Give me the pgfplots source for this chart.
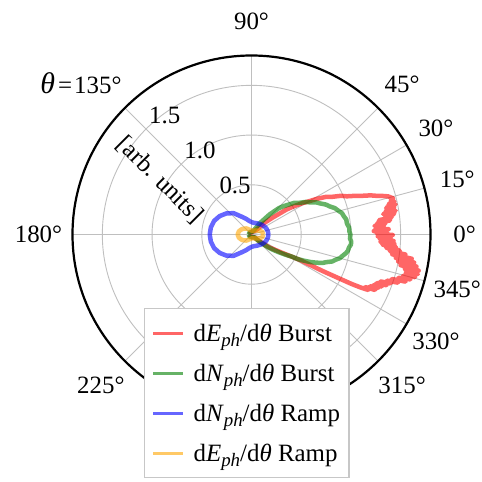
\documentclass[border=0pt]{standalone}
\usepackage{fontspec}
\setmainfont{Liberation Serif}
\usepackage{pgfplots}
\pgfplotsset{compat=1.18}
\usepgfplotslibrary{polar}

\definecolor{mplorange}{RGB}{255,165,0}
\newcommand\ticklabelfont{\fontsize{25}{30}\selectfont}
\newcommand\legendfont{\fontsize{25}{29}\selectfont}
\newcommand\sub[1]{\raisebox{-0.22em}{\fontsize{19}{21}\selectfont\textit{#1}}}

\begin{document}
\begin{tikzpicture}
\begin{polaraxis}[
  scale only axis, width=358bp, height=358bp,
  ymin=0, ymax=1.8,
  xtick={0,15,30,45,90,135,180,225,270,315,330,345},
  xticklabels={},
  ytick={0.5,1.0,1.5},
  yticklabels={},
  grid=major,
  major grid style={draw=black!25, line width=0.9bp},
  axis line style={line width=2.2bp, black},
  y axis line style={draw=none},
  major tick length=0pt,
  clip=false,
  legend style={
    at={(axis description cs:0.1997,0.2947)}, anchor=north west,
    draw=black!22, line width=1.2bp, fill=white,
    font=\legendfont, row sep=17.2bp,
    inner xsep=7bp, inner ysep=13bp,
    /tikz/every odd column/.append style={column sep=7bp},
  },
  legend cell align=left,
  legend image code/.code={\draw[#1, line width=3bp] (0bp,0bp) -- (30bp,0bp);},
]
\coordinate (c) at (axis cs:0,0);

% energy per angle, burst regime
\addplot[red, draw opacity=0.6, line width=4.5bp, line join=round] coordinates {
 (180,0.02) (120,0.02) (90,0.025) (70,0.03) (55,0.04) (48,0.06) (45,0.07)
 (42.5,0.165) (38.8,0.266) (35.5,0.434) (33.5,0.52) (31.8,0.594) (30.2,0.66)
 (28.6,0.748) (26.8,0.84) (25.1,0.892) (23.4,0.98) (21.8,1.034) (20.5,1.11)
 (19.3,1.177) (18.2,1.26) (17.1,1.321) (16.3,1.38) (15.6,1.426) (14.9,1.45)
 (14.3,1.47) (13.6,1.44) (13.0,1.475) (12.4,1.41) (11.8,1.48) (11.2,1.38)
 (10.6,1.46) (10.0,1.37) (9.4,1.47) (8.8,1.34) (8.2,1.45) (7.6,1.36)
 (7.0,1.42) (6.4,1.29) (5.8,1.40) (5.2,1.27) (4.6,1.35) (4.0,1.24)
 (3.4,1.33) (2.8,1.25) (2.2,1.38) (1.6,1.23) (1.0,1.36) (0.4,1.26)
 (-0.2,1.42) (-0.8,1.27) (-1.4,1.40) (-2.0,1.29) (-2.6,1.43) (-3.2,1.30)
 (-3.8,1.44) (-4.4,1.32) (-5.0,1.46) (-5.6,1.36) (-6.2,1.50) (-6.8,1.40)
 (-7.4,1.56) (-8.0,1.43) (-8.6,1.63) (-9.2,1.47) (-9.8,1.66) (-10.4,1.50)
 (-11.0,1.69) (-11.6,1.53) (-12.2,1.72) (-12.8,1.58) (-13.4,1.72)
 (-14.0,1.60) (-14.6,1.70) (-15.2,1.58) (-15.8,1.66) (-16.4,1.54)
 (-17.0,1.62) (-17.6,1.48) (-18.2,1.55) (-18.8,1.44) (-19.4,1.48)
 (-20.0,1.38) (-20.6,1.45) (-21.2,1.35) (-21.8,1.41) (-22.4,1.33)
 (-23.0,1.38) (-23.6,1.30) (-24.2,1.36) (-24.8,1.26) (-25.4,1.30)
 (-25.9,1.22) (-26.3,1.12) (-26.6,0.994) (-27.2,0.795)
 (-27.7,0.553) (-31,0.353) (-35.8,0.224) (-41,0.107) (-45,0.043)
 (-55,0.035) (-70,0.03) (-90,0.025) (-120,0.02) (-180,0.02)
};
\addlegendentry{d\textit{E}\sub{ph}/d\textit{θ} Burst}

% photon number per angle, burst regime
\addplot[green!50!black, draw opacity=0.6, line width=4.5bp, line join=round] coordinates {
 (180,0.03) (120,0.03) (75,0.03) (62,0.05) (59,0.059) (53.5,0.144) (48,0.27)
 (44,0.38) (41.5,0.43) (39.3,0.47) (36.5,0.535) (33.8,0.571) (31,0.635)
 (28.9,0.669) (26.5,0.725) (24.5,0.755) (22,0.805) (19.7,0.837) (17.5,0.88)
 (15.6,0.902) (13.3,0.935) (11.1,0.947) (9,0.965) (6.6,0.966) (4,0.985)
 (1.8,0.985) (0,0.995) (-2.3,0.991) (-4,1.005) (-5.8,1.005) (-7.5,0.99)
 (-9.5,0.983) (-11,0.97) (-13,0.943) (-15,0.92) (-16.6,0.885) (-18.5,0.855)
 (-20.1,0.807) (-22,0.765) (-23.6,0.706) (-25,0.655) (-26.6,0.587)
 (-28,0.525) (-28.8,0.461) (-30.5,0.405) (-32.7,0.336) (-35,0.275)
 (-37.4,0.216) (-41.6,0.122) (-45,0.043) (-60,0.03) (-75,0.03) (-120,0.03)
 (-180,0.03)
};
\addlegendentry{d\textit{N}\sub{ph}/d\textit{θ} Burst}

% photon number per angle, ramp regime
\addplot[blue, draw opacity=0.6, line width=4.5bp, line join=round] coordinates {
 (0,0.17) (10,0.168) (20,0.163) (30,0.155) (40,0.145) (50,0.135) (60,0.127)
 (70,0.122) (80,0.12) (90,0.125) (100,0.14) (110,0.17) (120,0.21) (130,0.28)
 (140,0.33) (150,0.37) (160,0.40) (170,0.415) (180,0.42) (190,0.415)
 (200,0.40) (210,0.37) (220,0.33) (230,0.28) (240,0.21) (250,0.17)
 (260,0.14) (270,0.125) (280,0.12) (290,0.122) (300,0.127) (310,0.135)
 (320,0.145) (330,0.155) (340,0.163) (350,0.168) (360,0.17)
};
\addlegendentry{d\textit{N}\sub{ph}/d\textit{θ} Ramp}

% energy per angle, ramp regime
\addplot[mplorange, draw opacity=0.6, line width=4.5bp, line join=round] coordinates {
 (0,0.12) (15,0.11) (30,0.08) (50,0.05) (70,0.04) (90,0.04) (110,0.05)
 (130,0.08) (150,0.11) (165,0.13) (180,0.14) (195,0.13) (210,0.11)
 (230,0.08) (250,0.05) (270,0.04) (290,0.04) (310,0.05) (330,0.08)
 (345,0.11) (360,0.12)
};
\addlegendentry{d\textit{E}\sub{ph}/d\textit{θ} Ramp}

% angular labels
\pgfplotsinvokeforeach{0,15,30,45,90,180,225,315,330,345}{
  \node[font=\ticklabelfont, anchor=center] at (axis cs:#1,2.142) {#1°};
}
\node[font=\ticklabelfont, anchor=center] at (axis cs:138.4,2.293)
  {\textit{\fontsize{30}{30}\selectfont θ}\kern3bp=\kern2bp135°};

% radial labels
\pgfplotsinvokeforeach{0.5,1.0,1.5}{
  \node[font=\ticklabelfont, anchor=south west, inner sep=0pt, xshift=3bp, yshift=5bp]
    at (axis cs:135,#1) {#1};
}
\node[font=\ticklabelfont, rotate=-45, anchor=center] at (axis cs:149.2,1.071) {[arb. units]};
\end{polaraxis}
\pgfresetboundingbox
\path ([shift={(-251.5bp,234.5bp)}]c) rectangle ([shift={(230.5bp,-247.5bp)}]c);
\end{tikzpicture}
\end{document}
